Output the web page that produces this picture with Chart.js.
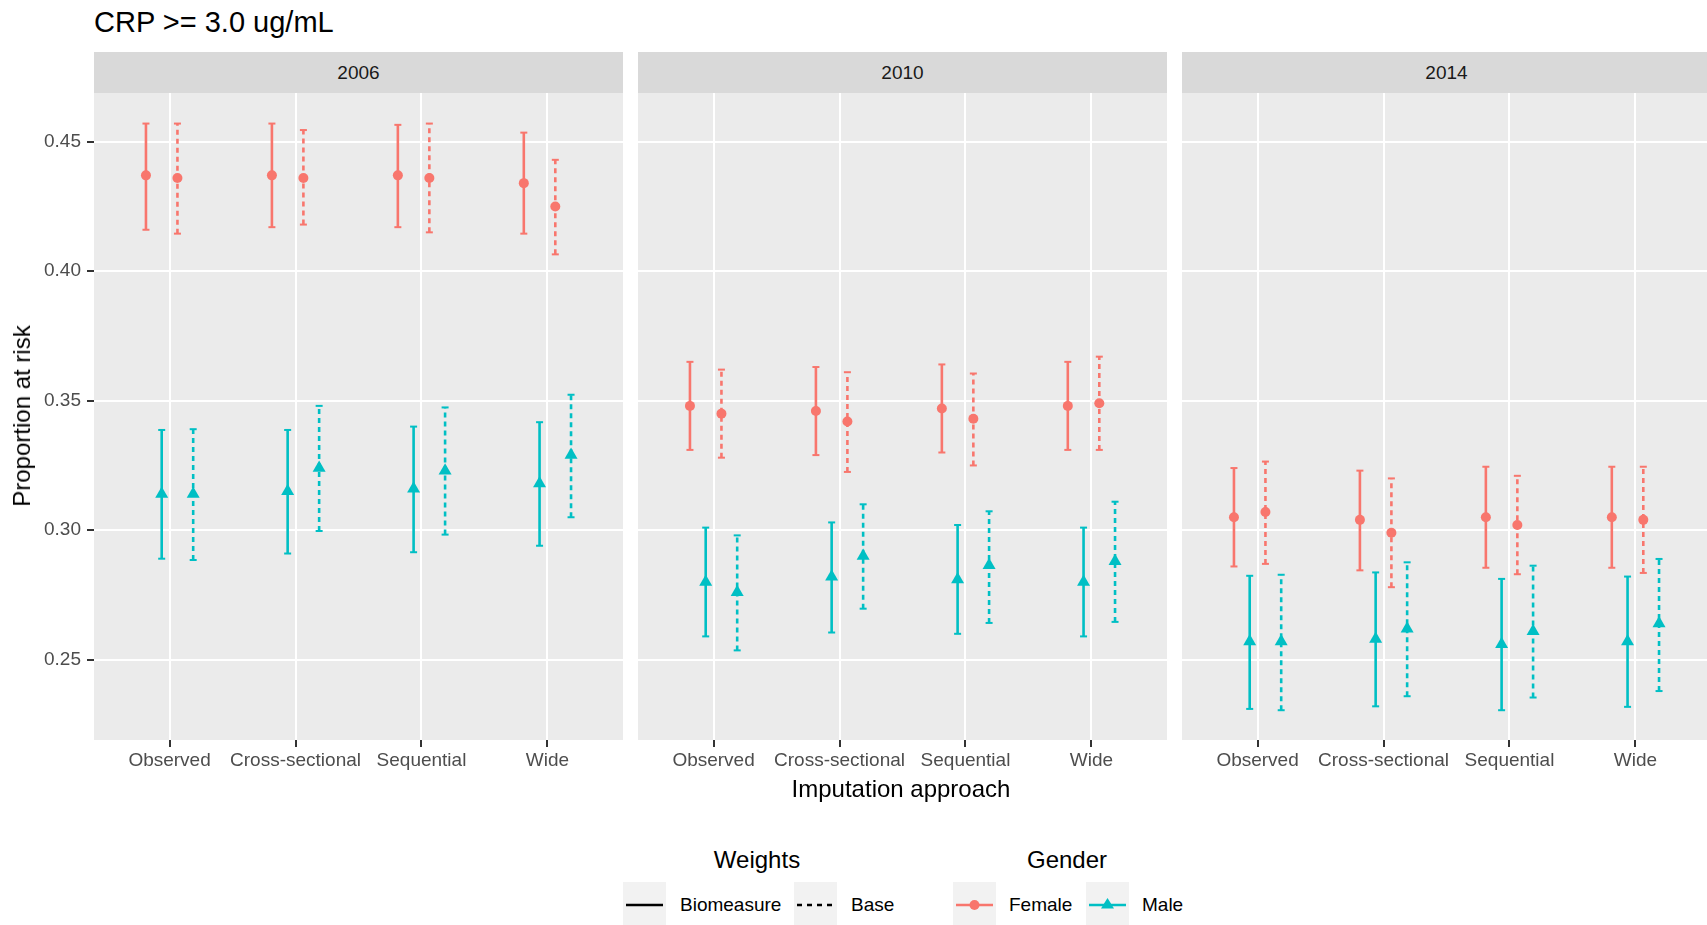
<!DOCTYPE html>
<html>
<head>
<meta charset="utf-8">
<script src="https://cdn.jsdelivr.net/npm/chart.js@4.4.1/dist/chart.umd.min.js"></script>
<style>
  body { margin: 0; background: #fff; }
  #wrap { position: relative; width: 1707px; height: 925px; overflow: hidden; font-family: "Liberation Sans", Arial, sans-serif; }
  #wrap canvas { position: absolute; }
  .strip { position: absolute; top: 52px; height: 41px; background: #D9D9D9; color: #1A1A1A; font-size: 19px; line-height: 41px; text-align: center; }
  .txt { position: absolute; white-space: nowrap; color: #000; }
</style>
</head>
<body>
<div id="wrap">
  <div class="txt" style="left:94px; top:5px; font-size:29px; line-height:34px;">CRP &gt;= 3.0 ug/mL</div>
  <div class="strip" style="left:94px; width:529px;">2006</div>
  <div class="strip" style="left:638px; width:529px;">2010</div>
  <div class="strip" style="left:1182px; width:529px;">2014</div>

  <canvas id="p0" width="623" height="687" style="left:0px; top:93px;"></canvas>
  <canvas id="p1" width="529" height="687" style="left:638px; top:93px;"></canvas>
  <canvas id="p2" width="529" height="687" style="left:1182px; top:93px;"></canvas>

  <div class="txt" style="left:22px; top:416px; font-size:24px; transform: translate(-50%,-50%) rotate(-90deg);">Proportion at risk</div>
  <div class="txt" style="left:901px; top:789px; font-size:24px; transform: translate(-50%,-50%);">Imputation approach</div>

  <!-- legend -->
  <div class="txt" style="left:757px; top:860px; font-size:24px; transform: translate(-50%,-50%);">Weights</div>
  <canvas id="k1" width="43" height="43" style="left:623px; top:882px;"></canvas>
  <div class="txt" style="left:680px; top:905px; font-size:19px; transform: translateY(-50%);">Biomeasure</div>
  <canvas id="k2" width="43" height="43" style="left:794px; top:882px;"></canvas>
  <div class="txt" style="left:851px; top:905px; font-size:19px; transform: translateY(-50%);">Base</div>

  <div class="txt" style="left:1067px; top:860px; font-size:24px; transform: translate(-50%,-50%);">Gender</div>
  <canvas id="k3" width="43" height="43" style="left:953px; top:882px;"></canvas>
  <div class="txt" style="left:1009px; top:905px; font-size:19px; transform: translateY(-50%);">Female</div>
  <canvas id="k4" width="43" height="43" style="left:1086px; top:882px;"></canvas>
  <div class="txt" style="left:1142px; top:905px; font-size:19px; transform: translateY(-50%);">Male</div>
</div>

<script>
// categories / facets / ticks
const categories = ["Observed", "Cross-sectional", "Sequential", "Wide"];
const years = ["2006", "2010", "2014"];
const yTicks = [0.25, 0.30, 0.35, 0.40, 0.45];

// estimates and interval ends, one row per year (2006, 2010, 2014)
const femaleBioEst = [[0.437, 0.437, 0.437, 0.434], [0.348, 0.346, 0.347, 0.348], [0.305, 0.304, 0.305, 0.305]];
const femaleBioLo  = [[0.416, 0.417, 0.417, 0.4145], [0.331, 0.329, 0.330, 0.331], [0.286, 0.2845, 0.2855, 0.2855]];
const femaleBioHi  = [[0.457, 0.457, 0.4565, 0.4535], [0.365, 0.363, 0.364, 0.365], [0.324, 0.323, 0.3245, 0.3245]];

const femaleBaseEst = [[0.436, 0.436, 0.436, 0.425], [0.345, 0.342, 0.343, 0.349], [0.307, 0.299, 0.302, 0.304]];
const femaleBaseLo  = [[0.4145, 0.418, 0.415, 0.4065], [0.328, 0.3225, 0.325, 0.331], [0.287, 0.278, 0.283, 0.2835]];
const femaleBaseHi  = [[0.457, 0.4545, 0.457, 0.443], [0.362, 0.361, 0.3605, 0.367], [0.3265, 0.320, 0.321, 0.3245]];

const maleBioEst = [[0.314, 0.315, 0.316, 0.318], [0.280, 0.282, 0.281, 0.280], [0.257, 0.258, 0.256, 0.257]];
const maleBioLo  = [[0.289, 0.291, 0.2915, 0.294], [0.259, 0.2605, 0.260, 0.259], [0.231, 0.232, 0.2305, 0.2318]];
const maleBioHi  = [[0.3387, 0.3387, 0.340, 0.3417], [0.301, 0.303, 0.302, 0.301], [0.2824, 0.2837, 0.2812, 0.2821]];

const maleBaseEst = [[0.314, 0.324, 0.323, 0.329], [0.276, 0.290, 0.2865, 0.288], [0.257, 0.262, 0.261, 0.264]];
const maleBaseLo  = [[0.2885, 0.2997, 0.2983, 0.305], [0.2536, 0.2697, 0.2642, 0.2646], [0.2305, 0.2359, 0.2354, 0.2379]];
const maleBaseHi  = [[0.339, 0.348, 0.3474, 0.3523], [0.298, 0.310, 0.3073, 0.311], [0.2828, 0.2876, 0.2863, 0.2889]];

const red = "#F8766D";
const teal = "#00BFC4";
const font = "Liberation Sans, Arial, sans-serif";

// dodge order: F-bio, M-bio, F-base, M-base
const groups = [
    { est: femaleBioEst, lo: femaleBioLo, hi: femaleBioHi, color: red, shape: "circle", r: 5, dash: [], off: -0.1875 },
    { est: maleBioEst, lo: maleBioLo, hi: maleBioHi, color: teal, shape: "triangle", r: 7.5, dash: [], off: -0.0625 },
    { est: femaleBaseEst, lo: femaleBaseLo, hi: femaleBaseHi, color: red, shape: "circle", r: 5, dash: [5, 4], off: 0.0625 },
    { est: maleBaseEst, lo: maleBaseLo, hi: maleBaseHi, color: teal, shape: "triangle", r: 7.5, dash: [5, 4], off: 0.1875 }
];

Chart.defaults.font.family = font;

const panelBg = {
    id: "panelBg",
    beforeDraw(chart) {
        let a = chart.chartArea;
        let ctx = chart.ctx;
        ctx.save();
        ctx.fillStyle = "#EBEBEB";
        ctx.fillRect(a.left, a.top, a.right - a.left, a.bottom - a.top);
        ctx.restore();
    }
};

function makePanel(p) {
    let datasets = [];

    groups.forEach(g => {
        // estimate markers
        datasets.push({
            type: "line",
            showLine: false,
            data: categories.map((c, i) => ({ x: i + g.off, y: g.est[p][i] })),
            pointStyle: g.shape,
            pointRadius: g.r,
            backgroundColor: g.color,
            borderColor: g.color,
            borderWidth: 0,
            order: 0
        });
    });

    groups.forEach(g => {
        // interval lines, broken by null between categories
        let pts = [];
        categories.forEach((c, i) => {
            pts.push({ x: i + g.off, y: g.lo[p][i] });
            pts.push({ x: i + g.off, y: g.hi[p][i] });
            pts.push({ x: i + g.off, y: null });
        });
        datasets.push({
            type: "line",
            data: pts,
            spanGaps: false,
            borderColor: g.color,
            borderWidth: 2.6,
            borderDash: g.dash,
            pointStyle: "line",
            pointRadius: 3.5,
            pointBorderWidth: 2,
            pointBorderColor: g.color,
            order: 1
        });
    });

    let first = p === 0;

    new Chart(document.getElementById("p" + p), {
        type: "line",
        data: { datasets: datasets },
        plugins: [panelBg],
        options: {
            responsive: false,
            animation: false,
            layout: { padding: 0, autoPadding: false },
            plugins: { legend: { display: false }, tooltip: { enabled: false } },
            scales: {
                x: {
                    type: "linear",
                    min: -0.6,
                    max: 3.6,
                    afterBuildTicks: s => { s.ticks = categories.map((c, i) => ({ value: i })); },
                    afterFit: s => { s.height = 40; s.paddingLeft = 0; s.paddingRight = 0; },
                    ticks: {
                        callback: v => categories[v],
                        color: "#4D4D4D",
                        font: { size: 19 },
                        padding: 2,
                        maxRotation: 0,
                        autoSkip: false
                    },
                    grid: { color: "#FFFFFF", lineWidth: 2, tickColor: "#333333", tickLength: 7, tickWidth: 2 },
                    border: { display: false }
                },
                y: {
                    type: "linear",
                    min: 0.219,
                    max: 0.4688,
                    afterBuildTicks: s => { s.ticks = yTicks.map(v => ({ value: v })); },
                    afterFit: s => { s.width = first ? 94 : 0; s.paddingTop = 0; s.paddingBottom = 0; },
                    ticks: {
                        display: first,
                        callback: v => v.toFixed(2),
                        color: "#4D4D4D",
                        font: { size: 19 },
                        padding: 6
                    },
                    grid: { color: "#FFFFFF", lineWidth: 2, drawTicks: first, tickColor: "#333333", tickLength: 7, tickWidth: 2 },
                    border: { display: false }
                }
            }
        }
    });
}

years.forEach((y, p) => makePanel(p));

// legend keys
function drawKey(id, fn) {
    let c = document.getElementById(id);
    let ctx = c.getContext("2d");
    ctx.fillStyle = "#F2F2F2";
    ctx.fillRect(0, 0, c.width, c.height);
    fn(ctx);
}

function keyLine(ctx, color, dash) {
    ctx.strokeStyle = color;
    ctx.lineWidth = 2.5;
    ctx.setLineDash(dash);
    ctx.beginPath();
    ctx.moveTo(3, 23);
    ctx.lineTo(40, 23);
    ctx.stroke();
    ctx.setLineDash([]);
}

drawKey("k1", ctx => keyLine(ctx, "#000", []));
drawKey("k2", ctx => keyLine(ctx, "#000", [5, 5]));
drawKey("k3", ctx => {
    keyLine(ctx, red, []);
    ctx.fillStyle = red;
    ctx.beginPath();
    ctx.arc(21.5, 23, 5, 0, Math.PI * 2);
    ctx.fill();
});
drawKey("k4", ctx => {
    keyLine(ctx, teal, []);
    ctx.fillStyle = teal;
    ctx.beginPath();
    ctx.moveTo(21.5, 23 - 7);
    ctx.lineTo(21.5 + 6.5, 23 + 3.5);
    ctx.lineTo(21.5 - 6.5, 23 + 3.5);
    ctx.closePath();
    ctx.fill();
});
</script>
</body>
</html>
